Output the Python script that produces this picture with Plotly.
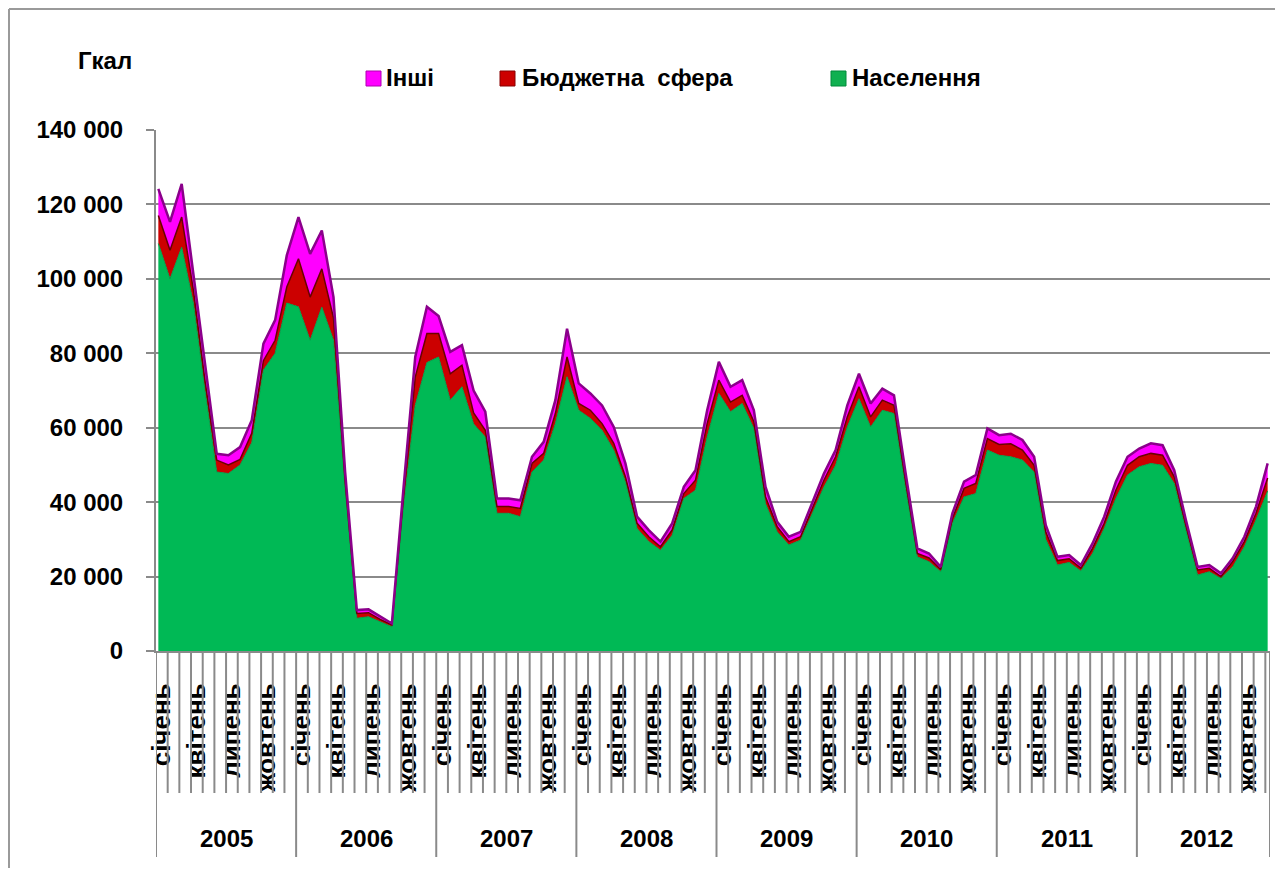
import plotly.graph_objects as go

# ---------------- data ----------------
years = ['2005', '2006', '2007', '2008', '2009', '2010', '2011', '2012']
month_names = ['січень', 'квітень', 'липень', 'жовтень']

naselennya = [109500, 100000, 108500, 93500, 70000, 48100, 47700, 50000, 56000, 75500, 80000, 93500,
              92500, 83500, 92400, 83500, 43500, 8800, 9200, 7900, 6500, 39000, 66000, 77500,
              79000, 67400, 71000, 61000, 57500, 37000, 37000, 36100, 48100, 51300, 61100, 73700,
              64700, 62500, 59300, 54000, 45500, 32900, 29400, 27100, 31100, 41000, 43200, 57500,
              69200, 64300, 66500, 59800, 39600, 32000, 28500, 29800, 37000, 44100, 49900, 60200,
              67800, 60200, 64700, 63800, 43700, 25300, 24000, 21300, 34300, 41400, 42300, 54000,
              52600, 52200, 51300, 48100, 30000, 23100, 23800, 21500, 26200, 32900, 41000, 47300,
              49500, 50400, 49900, 45000, 32500, 20400, 21300, 19500, 22600, 28000, 35200, 43000]

byudzhet = [7500, 7700, 8100, 3500, 2500, 3200, 2300, 1500, 2500, 2500, 3500, 4300,
            12900, 11600, 10300, 6000, 2000, 1300, 1100, 600, 500, 2500, 7600, 7800,
            6300, 7100, 5800, 3000, 1800, 1800, 1800, 2200, 2300, 1800, 2700, 5300,
            1800, 2200, 1800, 1800, 1300, 1400, 1300, 900, 1400, 1300, 2700, 3600,
            3600, 2600, 2200, 1800, 1800, 1400, 900, 900, 1300, 1800, 2300, 2700,
            3200, 2700, 2700, 2200, 1800, 900, 1000, 600, 1300, 2300, 2700, 3100,
            2900, 3500, 2700, 1800, 2000, 1200, 1000, 800, 1400, 1400, 2200, 2600,
            2700, 2700, 2700, 1800, 1300, 1400, 900, 500, 1400, 1400, 1800, 3500]

inshi = [7200, 7600, 8900, 4000, 3500, 1700, 2600, 3300, 3500, 4600, 5400, 8500,
         11200, 11600, 10300, 5600, 2500, 900, 900, 700, 400, 2500, 5400, 7200,
         4700, 5900, 5400, 6000, 5000, 2200, 2200, 2200, 1800, 3100, 3600, 7600,
         5400, 4500, 4900, 4400, 3600, 1800, 1800, 1400, 1800, 1800, 2700, 3600,
         4900, 4100, 4100, 3100, 2700, 1300, 1300, 1300, 1300, 1800, 1800, 3100,
         3500, 3600, 3100, 2700, 2200, 1400, 1200, 700, 1400, 1800, 2300, 2700,
         2500, 2700, 2700, 2300, 1800, 1000, 1000, 800, 1300, 1800, 2300, 2300,
         2200, 2700, 2700, 1800, 1400, 800, 900, 900, 900, 1300, 1800, 3900]

series_names = ['Населення', 'Бюджетна  сфера', 'Інші']

# ---------------- styling / geometry ----------------
GREEN, RED, PINK = '#00B955', '#CC0000', '#FF00FF'
GRID = '#8a8a8a'
FONT = 'Arial, Liberation Sans, sans-serif'

# plot area in page pixels (page has 8px body margin)
PL, PR, PT, PB = 156, 1270, 130, 651
OFF = 8
FIG_W, FIG_H = 1283 - 2 * OFF, 876 - 2 * OFF


def xp(px):
    return (px - PL) / (PR - PL)


def yp(py):
    return (PB - py) / (PB - PT)


n = len(naselennya)
x = list(range(n))
X0 = -0.2   # first category boundary (in index units)
XMAX = 95.2

fig = go.Figure()
fig.add_trace(go.Scatter(x=x, y=naselennya, name=series_names[0], stackgroup='one', mode='lines',
                         line=dict(color='#00A04A', width=1), fillcolor=GREEN, showlegend=False))
fig.add_trace(go.Scatter(x=x, y=byudzhet, name=series_names[1], stackgroup='one', mode='lines',
                         line=dict(color='#6A0000', width=1.5), fillcolor=RED, showlegend=False))
fig.add_trace(go.Scatter(x=x, y=inshi, name=series_names[2], stackgroup='one', mode='lines',
                         line=dict(color='#8B008B', width=2.5), fillcolor=PINK, showlegend=False))

shapes = []
# month tick lines
for k in range(n + 1):
    xv = min(X0 + k, XMAX)
    is_year = (k % 12 == 0)
    shapes.append(dict(type='line', xref='x', yref='paper', x0=xv, x1=xv,
                       y0=yp(PB), y1=yp(857 if is_year else 793),
                       line=dict(color=GRID, width=2)))
# outer border (left and top)
shapes.append(dict(type='line', xref='paper', yref='paper', x0=xp(OFF + 1), x1=xp(OFF + 1),
                   y0=yp(876), y1=yp(OFF + 1), line=dict(color='#9a9a9a', width=2)))
shapes.append(dict(type='line', xref='paper', yref='paper', x0=xp(OFF + 1), x1=xp(1283),
                   y0=yp(OFF + 1), y1=yp(OFF + 1), line=dict(color='#9a9a9a', width=2)))

annotations = []
# legend (custom squares + text)
legend_items = [(series_names[2], PINK, '#B000B0', 366, 384),
                (series_names[1], RED, '#880000', 500, 520),
                (series_names[0], '#10B050', '#008a3a', 831, 850)]
for name, col, edge, sx, tx in legend_items:
    shapes.append(dict(type='rect', xref='paper', yref='paper', x0=xp(sx), x1=xp(sx + 15),
                       y0=yp(86), y1=yp(71), fillcolor=col, line=dict(color=edge, width=1)))
    annotations.append(dict(text=name, xref='paper', yref='paper', x=xp(tx), y=yp(78),
                            xanchor='left', yanchor='middle', showarrow=False,
                            font=dict(family=FONT, size=24, color='black', weight='bold')))
# unit
annotations.append(dict(text='Гкал', xref='paper', yref='paper', x=xp(105), y=yp(60),
                        xanchor='center', yanchor='middle', showarrow=False,
                        font=dict(family=FONT, size=24, color='black', weight='bold')))
# year group labels
for j, yr in enumerate(years):
    annotations.append(dict(text=yr, xref='x', yref='paper', x=X0 + 12 * j + 6, y=yp(838),
                            xanchor='center', yanchor='middle', showarrow=False,
                            font=dict(family=FONT, size=24, color='black', weight='bold')))

tickvals = [i + 0.3 for i in range(0, n, 3)]
ticktext = [month_names[(i // 3) % 4] for i in range(0, n, 3)]

fig.update_layout(
    width=FIG_W, height=FIG_H,
    margin=dict(l=PL - OFF, r=FIG_W - (PR - OFF), t=PT - OFF, b=FIG_H - (PB - OFF)),
    paper_bgcolor='white', plot_bgcolor='white',
    separators='. ',
    font=dict(family=FONT, size=24, color='black'),
    showlegend=False,
    shapes=shapes, annotations=annotations,
)
fig.update_yaxes(range=[0, 140000], dtick=20000, tickformat=',d',
                 showgrid=True, gridcolor=GRID, gridwidth=2,
                 showline=True, linecolor=GRID, linewidth=2,
                 ticks='outside', ticklen=8, tickwidth=2, tickcolor=GRID,
                 ticklabelstandoff=18,
                 tickfont=dict(family=FONT, size=24, color='black', weight='bold'),
                 zeroline=False)
fig.update_xaxes(range=[X0, XMAX], showgrid=False, zeroline=False,
                 showline=True, linecolor=GRID, linewidth=2,
                 tickmode='array', tickvals=tickvals, ticktext=ticktext,
                 tickangle=-90, ticks='', ticklabelstandoff=20,
                 tickfont=dict(family=FONT, size=26, color='black', weight='bold'))

fig.write_html("out.html")
